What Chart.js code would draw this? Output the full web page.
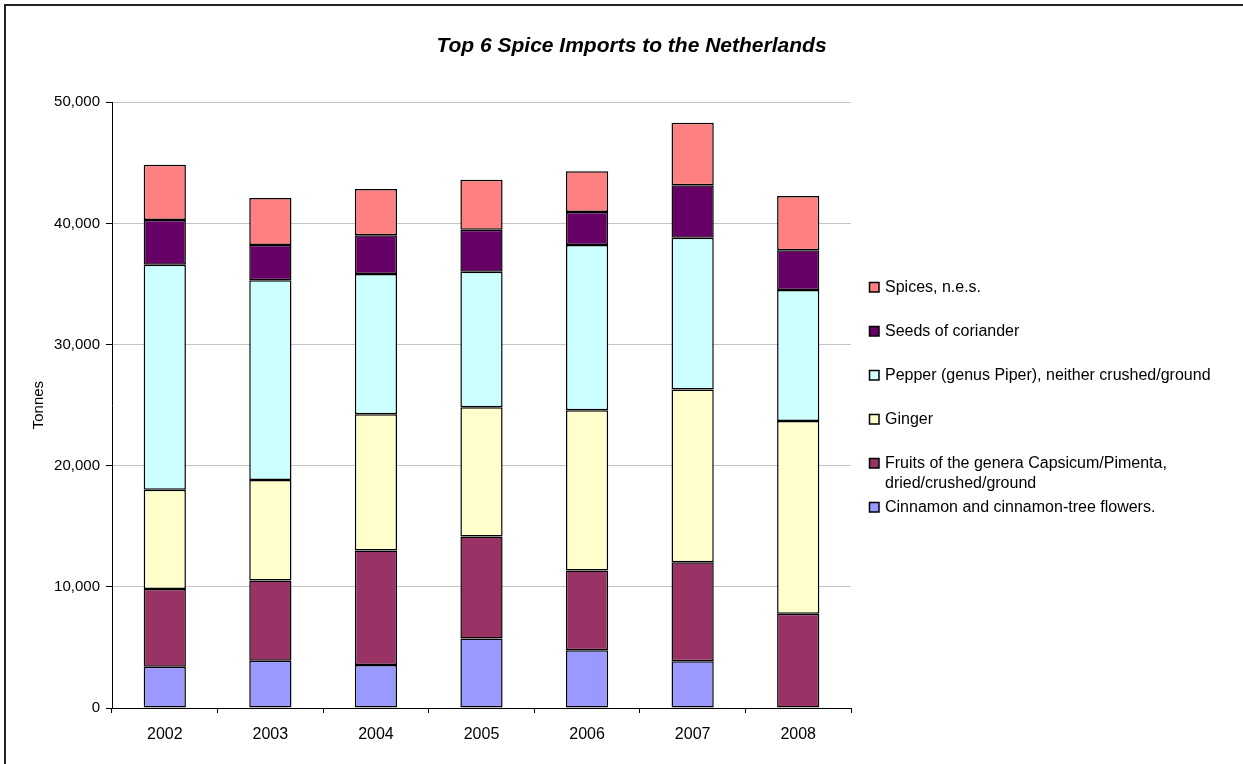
<!DOCTYPE html>
<html>
<head>
<meta charset="utf-8">
<script src="https://cdn.jsdelivr.net/npm/chart.js@4/dist/chart.umd.min.js"></script>
<style>
  body { margin: 0; background: #fff; overflow: hidden; }
  #frame { position: absolute; left: 4px; top: 4px; width: 1300px; height: 800px; border-left: 2px solid #222; border-top: 2px solid #222; }
  #chart { position: absolute; left: 0; top: 0; }
</style>
</head>
<body>
<div id="frame"></div>
<canvas id="chart" width="1243" height="764"></canvas>
<script>
// Tonnes per year
const years = ["2002", "2003", "2004", "2005", "2006", "2007", "2008"];
const cinnamon = [3410, 3910, 3550, 5730, 4760, 3850, 0];
const capsicum = [6420, 6610, 9450, 8430, 6590, 8180, 7770];
const ginger = [8190, 8290, 11240, 10660, 13220, 14250, 15920];
const pepper = [18560, 16500, 11590, 11180, 13640, 12530, 10800];
const coriander = [3690, 2900, 3180, 3470, 2720, 4330, 3300];
const spicesNes = [4570, 3880, 3820, 4130, 3370, 5170, 4470];

const seriesNames = [
  "Cinnamon and cinnamon-tree flowers.",
  "Fruits of the genera Capsicum/Pimenta,\ndried/crushed/ground",
  "Ginger",
  "Pepper (genus Piper), neither crushed/ground",
  "Seeds of coriander",
  "Spices, n.e.s."
];
const seriesColors = ["#9999FF", "#993366", "#FFFFCC", "#CCFFFF", "#660066", "#FF8080"];
const seriesData = [cinnamon, capsicum, ginger, pepper, coriander, spicesNes];

const FONT = "'Liberation Sans', Arial, sans-serif";

// legend drawn by hand so the two-line entry can sit like the original
const sideLegend = {
  id: "sideLegend",
  afterLayout(chart) {
    // centre the title over the whole picture, not only the plot
    const t = chart.titleBlock;
    if (t) {
      t.left = 20;
      t.right = chart.width;
      t.width = t.right - t.left;
    }
  },
  afterDraw(chart) {
    const ctx = chart.ctx;
    const boxX = chart.chartArea.right + 18;
    const textX = boxX + 16;
    let y = 292;
    ctx.save();
    ctx.font = "16px " + FONT;
    ctx.textBaseline = "alphabetic";
    ctx.textAlign = "left";
    for (let i = chart.data.datasets.length - 1; i >= 0; i--) {
      const ds = chart.data.datasets[i];
      ctx.fillStyle = ds.backgroundColor;
      ctx.fillRect(boxX, y - 10, 10, 10);
      ctx.strokeStyle = "#000";
      ctx.lineWidth = 1.5;
      ctx.strokeRect(boxX + 0.5, y - 9.5, 9.5, 9.5);
      ctx.fillStyle = "#000";
      ds.label.split("\n").forEach((line, k) => {
        ctx.fillText(line, textX, y + k * 19.5);
      });
      y += 44;
    }
    ctx.restore();
  }
};

new Chart(document.getElementById("chart"), {
  type: "bar",
  data: {
    labels: years,
    datasets: seriesData.map((vals, i) => ({
      label: seriesNames[i],
      data: vals,
      backgroundColor: seriesColors[i],
      borderColor: "#000",
      borderWidth: 1.5,
      borderSkipped: false,
      barPercentage: 0.4,
      categoryPercentage: 1
    }))
  },
  options: {
    responsive: false,
    animation: false,
    layout: { padding: { left: 20, right: 392, top: 0, bottom: 0 } },
    plugins: {
      legend: { display: false },
      tooltip: { enabled: false },
      title: {
        display: true,
        text: "Top 6 Spice Imports to the Netherlands",
        color: "#000",
        font: { family: FONT, size: 21, weight: "bold", style: "italic" },
        padding: { top: 34, bottom: 43 }
      }
    },
    scales: {
      x: {
        stacked: true,
        afterFit(scale) { scale.height = 56; },
        grid: { display: true, drawOnChartArea: false, drawTicks: true, tickLength: 5, tickColor: "#000", offset: true },
        border: { color: "#000", width: 1 },
        ticks: { color: "#000", padding: 12, font: { family: FONT, size: 16 } }
      },
      y: {
        stacked: true,
        min: 0,
        max: 50000,
        afterFit(scale) { scale.width = 92; },
        ticks: { stepSize: 10000, color: "#000", padding: 6, font: { family: FONT, size: 15 } },
        grid: { color: "#c4c4c4", tickColor: "#000", tickLength: 6 },
        border: { color: "#000", width: 1 },
        title: {
          display: true,
          text: "Tonnes",
          color: "#000",
          font: { family: FONT, size: 15 },
          padding: { top: 10, bottom: 0 }
        }
      }
    }
  },
  plugins: [sideLegend]
});
</script>
</body>
</html>
